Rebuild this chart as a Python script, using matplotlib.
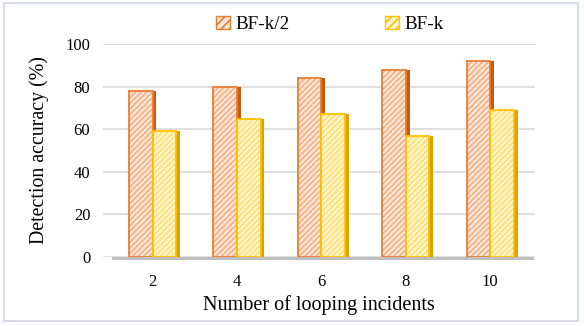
import matplotlib
matplotlib.use("Agg")
import matplotlib.pyplot as plt
from matplotlib.patches import Patch
import numpy as np

categories = ["2", "4", "6", "8", "10"]
bf_half = [78, 80, 84, 88, 92]
bf_k = [59, 65, 67, 57, 69]
series_names = ["BF-k/2", "BF-k"]
yticks = [0, 20, 40, 60, 80, 100]

plt.rcParams['font.family'] = ['Liberation Serif', 'DejaVu Serif']
plt.rcParams['hatch.linewidth'] = 1.3

fig = plt.figure(figsize=(5.84, 3.26), dpi=100)
ax = fig.add_axes([0.176, 0.2117, 0.74, 0.6533])

x = np.arange(len(categories))
w = 0.28
side = 0.045

orange_edge = "#ED7D31"
orange_face = "#FDE9DD"
orange_hatch = "#F4B183"
orange_side = "#C55A11"
yellow_edge = "#FFC000"
yellow_face = "#FFF7D6"
yellow_hatch = "#FFDF70"
yellow_side = "#D9A300"

# floor
ax.bar(x + 0.02, [1.2] * len(x), width=1.0, bottom=-1.2, color="#BFBFBF",
       zorder=1, clip_on=False)

# side faces
ax.bar(x + side / 2, bf_half, width=side, color=orange_side, zorder=2)
ax.bar(x + w + side / 2, bf_k, width=side, color=yellow_side, zorder=2)

# orange bars
ax.bar(x - w / 2, bf_half, width=w, color=orange_face, edgecolor=orange_hatch,
       hatch="//////", linewidth=0, zorder=3)
ax.bar(x - w / 2, bf_half, width=w, fill=False, edgecolor=orange_edge,
       linewidth=1.3, zorder=4)
# yellow bars
ax.bar(x + w / 2, bf_k, width=w, color=yellow_face, edgecolor=yellow_hatch,
       hatch="//////", linewidth=0, zorder=5)
ax.bar(x + w / 2, bf_k, width=w, fill=False, edgecolor=yellow_edge,
       linewidth=1.3, zorder=6)

ax.set_xlim(-0.59, 4.53)
ax.set_ylim(0, 100)
ax.set_yticks(yticks)
ax.set_xticks(x)
ax.set_xticklabels(categories)
ax.yaxis.grid(True, color="#D9D9D9", linewidth=1.2)
ax.set_axisbelow(True)
for s in ax.spines.values():
    s.set_visible(False)
ax.tick_params(axis="both", length=0, labelsize=12, colors="#000000")
ax.tick_params(axis="y", pad=9)
ax.tick_params(axis="x", pad=12)

ax.set_ylabel("Detection accuracy (%)", fontsize=14.3, labelpad=12)
ax.set_xlabel("Number of looping incidents", fontsize=14.5, labelpad=4)

handles = [Patch(facecolor=orange_face, edgecolor=orange_edge, hatch="////", linewidth=1),
           Patch(facecolor=yellow_face, edgecolor=yellow_edge, hatch="////", linewidth=1)]
fig.legend(handles, series_names, loc="center", bbox_to_anchor=(0.565, 0.925),
           ncol=2, frameon=False, fontsize=13.8, handlelength=0.7, handleheight=0.7,
           handletextpad=0.3, columnspacing=5.0)

# figure border
border = plt.Rectangle((0.006, 0.015), 0.983, 0.975, transform=fig.transFigure,
                       fill=False, edgecolor="#D6DCE5", linewidth=1.5)
fig.patches.append(border)

fig.savefig("out.png", dpi=100)
